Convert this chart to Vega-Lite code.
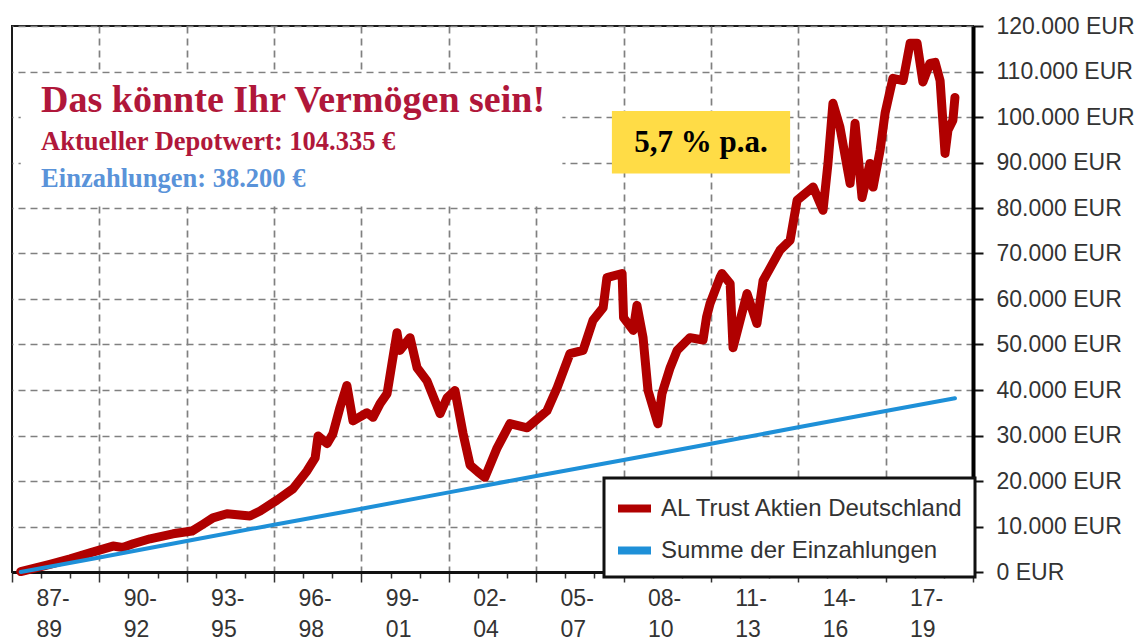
{
  "$schema": "https://vega.github.io/schema/vega-lite/v6.json",
  "width": 961,
  "height": 546,
  "padding": {"left": 11, "top": 15, "right": 0, "bottom": 0},
  "autosize": {"type": "pad"},
  "background": "white",
  "config": {
    "view": {"stroke": "#1a1a1a", "strokeWidth": 2},
    "font": "Liberation Sans",
    "legend": {"strokeWidth": 3}
  },
  "encoding": {
    "x": {
      "field": "year",
      "type": "quantitative",
      "scale": {"domain": [1987, 2020], "nice": false, "zero": false},
      "axis": {
        "title": null,
        "orient": "bottom",
        "values": [1987,1988,1989,1990,1991,1992,1993,1994,1995,1996,1997,1998,1999,2000,2001,2002,2003,2004,2005,2006,2007,2008,2009,2010,2011,2012,2013,2014,2015,2016,2017,2018,2019,2020,1987.82,1990.82,1993.82,1996.82,1999.82,2002.82,2005.82,2008.82,2011.82,2014.82,2017.82],
        "grid": true,
        "gridColor": "#808080",
        "gridDash": [7, 5],
        "gridWidth": 1.7,
        "gridOpacity": {"condition": {"test": "datum.value % 3 == 1 && datum.value > 1988 && datum.value < 2019", "value": 1}, "value": 0},
        "domainColor": "#111111",
        "domainWidth": 3,
        "tickColor": "#333333",
        "tickWidth": 1.5,
        "tickSize": {"condition": {"test": "datum.value % 3 == 1", "value": 10}, "value": 6},
        "tickOpacity": {"condition": {"test": "datum.value % 1 != 0", "value": 0}, "value": 1},
        "labelExpr": "datum.value % 1 != 0 ? [substring(toString(floor(datum.value)), 2) + '-', substring(toString(floor(datum.value) + 2), 2)] : ''",
        "labelAlign": "left",
        "labelBaseline": "top",
        "labelFontSize": 23,
        "labelColor": "#333333",
        "labelLineHeight": 31,
        "labelPadding": 9,
        "labelFlush": false,
        "labelOverlap": false,
        "labelBound": false
      }
    },
    "y": {
      "field": "value",
      "type": "quantitative",
      "scale": {"domain": [0, 120000], "nice": false},
      "axis": {
        "title": null,
        "orient": "right",
        "values": [0,10000,20000,30000,40000,50000,60000,70000,80000,90000,100000,110000,120000],
        "grid": true,
        "gridColor": "#808080",
        "gridDash": [7, 5],
        "gridWidth": 1.7,
        "domainColor": "#000000",
        "domainWidth": 4,
        "tickColor": "#111111",
        "tickWidth": 2,
        "tickSize": 10,
        "labelPadding": 13,
        "labelExpr": "replace(format(datum.value, ',d'), ',', '.') + ' EUR'",
        "labelFontSize": 23,
        "labelColor": "#333333",
        "labelBaseline": "middle",
        "labelFlush": false,
        "labelOverlap": false
      }
    }
  },
  "layer": [
    {
      "data": {"values": [{"year": 1987.3, "year2": 2005.9, "value": 80500, "value2": 109500}]},
      "mark": {"type": "rect", "fill": "white"},
      "encoding": {"x2": {"field": "year2"}, "y2": {"field": "value2"}}
    },
    {
      "data": {"values": [{"year": 2007.6, "year2": 2013.72, "value": 87600, "value2": 101300}]},
      "mark": {"type": "rect", "fill": "#FFDC46"},
      "encoding": {"x2": {"field": "year2"}, "y2": {"field": "value2"}}
    },
    {
      "data": {"values": [{"year": 1988.0, "value": 101000, "label": "Das könnte Ihr Vermögen sein!"}]},
      "mark": {"type": "text", "align": "left", "baseline": "alphabetic", "font": "Liberation Serif", "fontWeight": "bold", "fontSize": 38, "color": "#B0173A"},
      "encoding": {"text": {"field": "label"}}
    },
    {
      "data": {"values": [{"year": 1988.0, "value": 92700, "label": "Aktueller Depotwert: 104.335 €"}]},
      "mark": {"type": "text", "align": "left", "baseline": "alphabetic", "font": "Liberation Serif", "fontWeight": "bold", "fontSize": 26.5, "color": "#B0173A"},
      "encoding": {"text": {"field": "label"}}
    },
    {
      "data": {"values": [{"year": 1988.0, "value": 84550, "label": "Einzahlungen: 38.200 €"}]},
      "mark": {"type": "text", "align": "left", "baseline": "alphabetic", "font": "Liberation Serif", "fontWeight": "bold", "fontSize": 26.5, "color": "#5A93D9"},
      "encoding": {"text": {"field": "label"}}
    },
    {
      "data": {"values": [{"year": 2010.66, "value": 92300, "label": "5,7 % p.a."}]},
      "mark": {"type": "text", "align": "center", "baseline": "alphabetic", "font": "Liberation Serif", "fontWeight": "bold", "fontSize": 31, "color": "#000000"},
      "encoding": {"text": {"field": "label"}}
    },
    {
      "data": {"values": [
        {"series": "AL Trust Aktien Deutschland", "year": 1987.3, "value": 100},
        {"series": "AL Trust Aktien Deutschland", "year": 1988.3, "value": 1700},
        {"series": "AL Trust Aktien Deutschland", "year": 1989.0, "value": 2900},
        {"series": "AL Trust Aktien Deutschland", "year": 1989.68, "value": 4200},
        {"series": "AL Trust Aktien Deutschland", "year": 1990.47, "value": 5700},
        {"series": "AL Trust Aktien Deutschland", "year": 1990.8, "value": 5400},
        {"series": "AL Trust Aktien Deutschland", "year": 1991.16, "value": 6200},
        {"series": "AL Trust Aktien Deutschland", "year": 1991.74, "value": 7300},
        {"series": "AL Trust Aktien Deutschland", "year": 1992.53, "value": 8400},
        {"series": "AL Trust Aktien Deutschland", "year": 1993.18, "value": 9000},
        {"series": "AL Trust Aktien Deutschland", "year": 1993.56, "value": 10500},
        {"series": "AL Trust Aktien Deutschland", "year": 1993.9, "value": 11900},
        {"series": "AL Trust Aktien Deutschland", "year": 1994.38, "value": 12800},
        {"series": "AL Trust Aktien Deutschland", "year": 1995.17, "value": 12300},
        {"series": "AL Trust Aktien Deutschland", "year": 1995.52, "value": 13400},
        {"series": "AL Trust Aktien Deutschland", "year": 1996.1, "value": 15800},
        {"series": "AL Trust Aktien Deutschland", "year": 1996.65, "value": 18300},
        {"series": "AL Trust Aktien Deutschland", "year": 1997.13, "value": 22200},
        {"series": "AL Trust Aktien Deutschland", "year": 1997.41, "value": 25100},
        {"series": "AL Trust Aktien Deutschland", "year": 1997.51, "value": 29900},
        {"series": "AL Trust Aktien Deutschland", "year": 1997.82, "value": 28200},
        {"series": "AL Trust Aktien Deutschland", "year": 1998.02, "value": 30400},
        {"series": "AL Trust Aktien Deutschland", "year": 1998.26, "value": 36100},
        {"series": "AL Trust Aktien Deutschland", "year": 1998.5, "value": 41000},
        {"series": "AL Trust Aktien Deutschland", "year": 1998.71, "value": 33200},
        {"series": "AL Trust Aktien Deutschland", "year": 1999.19, "value": 35000},
        {"series": "AL Trust Aktien Deutschland", "year": 1999.4, "value": 34000},
        {"series": "AL Trust Aktien Deutschland", "year": 1999.64, "value": 37000},
        {"series": "AL Trust Aktien Deutschland", "year": 1999.88, "value": 39200},
        {"series": "AL Trust Aktien Deutschland", "year": 2000.08, "value": 47100},
        {"series": "AL Trust Aktien Deutschland", "year": 2000.22, "value": 52600},
        {"series": "AL Trust Aktien Deutschland", "year": 2000.32, "value": 48700},
        {"series": "AL Trust Aktien Deutschland", "year": 2000.67, "value": 51500},
        {"series": "AL Trust Aktien Deutschland", "year": 2000.91, "value": 44900},
        {"series": "AL Trust Aktien Deutschland", "year": 2001.25, "value": 42000},
        {"series": "AL Trust Aktien Deutschland", "year": 2001.7, "value": 34800},
        {"series": "AL Trust Aktien Deutschland", "year": 2001.94, "value": 38300},
        {"series": "AL Trust Aktien Deutschland", "year": 2002.21, "value": 39900},
        {"series": "AL Trust Aktien Deutschland", "year": 2002.49, "value": 30400},
        {"series": "AL Trust Aktien Deutschland", "year": 2002.73, "value": 23500},
        {"series": "AL Trust Aktien Deutschland", "year": 2003.0, "value": 22000},
        {"series": "AL Trust Aktien Deutschland", "year": 2003.24, "value": 20800},
        {"series": "AL Trust Aktien Deutschland", "year": 2003.66, "value": 27300},
        {"series": "AL Trust Aktien Deutschland", "year": 2004.1, "value": 32600},
        {"series": "AL Trust Aktien Deutschland", "year": 2004.69, "value": 31700},
        {"series": "AL Trust Aktien Deutschland", "year": 2005.37, "value": 35400},
        {"series": "AL Trust Aktien Deutschland", "year": 2005.72, "value": 40500},
        {"series": "AL Trust Aktien Deutschland", "year": 2006.16, "value": 48000},
        {"series": "AL Trust Aktien Deutschland", "year": 2006.61, "value": 48700},
        {"series": "AL Trust Aktien Deutschland", "year": 2006.95, "value": 55300},
        {"series": "AL Trust Aktien Deutschland", "year": 2007.3, "value": 58100},
        {"series": "AL Trust Aktien Deutschland", "year": 2007.43, "value": 64700},
        {"series": "AL Trust Aktien Deutschland", "year": 2007.95, "value": 65600},
        {"series": "AL Trust Aktien Deutschland", "year": 2008.0, "value": 55900},
        {"series": "AL Trust Aktien Deutschland", "year": 2008.33, "value": 53100},
        {"series": "AL Trust Aktien Deutschland", "year": 2008.46, "value": 58600},
        {"series": "AL Trust Aktien Deutschland", "year": 2008.67, "value": 51500},
        {"series": "AL Trust Aktien Deutschland", "year": 2008.84, "value": 39900},
        {"series": "AL Trust Aktien Deutschland", "year": 2009.18, "value": 32600},
        {"series": "AL Trust Aktien Deutschland", "year": 2009.32, "value": 39200},
        {"series": "AL Trust Aktien Deutschland", "year": 2009.6, "value": 44900},
        {"series": "AL Trust Aktien Deutschland", "year": 2009.84, "value": 48700},
        {"series": "AL Trust Aktien Deutschland", "year": 2010.28, "value": 51500},
        {"series": "AL Trust Aktien Deutschland", "year": 2010.73, "value": 51000},
        {"series": "AL Trust Aktien Deutschland", "year": 2010.85, "value": 56000},
        {"series": "AL Trust Aktien Deutschland", "year": 2010.97, "value": 59000},
        {"series": "AL Trust Aktien Deutschland", "year": 2011.31, "value": 64700},
        {"series": "AL Trust Aktien Deutschland", "year": 2011.38, "value": 65600},
        {"series": "AL Trust Aktien Deutschland", "year": 2011.66, "value": 63400},
        {"series": "AL Trust Aktien Deutschland", "year": 2011.76, "value": 49300},
        {"series": "AL Trust Aktien Deutschland", "year": 2012.24, "value": 61200},
        {"series": "AL Trust Aktien Deutschland", "year": 2012.58, "value": 54600},
        {"series": "AL Trust Aktien Deutschland", "year": 2012.79, "value": 64000},
        {"series": "AL Trust Aktien Deutschland", "year": 2013.37, "value": 70700},
        {"series": "AL Trust Aktien Deutschland", "year": 2013.72, "value": 72900},
        {"series": "AL Trust Aktien Deutschland", "year": 2013.96, "value": 81700},
        {"series": "AL Trust Aktien Deutschland", "year": 2014.51, "value": 84600},
        {"series": "AL Trust Aktien Deutschland", "year": 2014.85, "value": 79500},
        {"series": "AL Trust Aktien Deutschland", "year": 2015.02, "value": 89800},
        {"series": "AL Trust Aktien Deutschland", "year": 2015.19, "value": 103000},
        {"series": "AL Trust Aktien Deutschland", "year": 2015.43, "value": 97800},
        {"series": "AL Trust Aktien Deutschland", "year": 2015.78, "value": 85400},
        {"series": "AL Trust Aktien Deutschland", "year": 2015.95, "value": 98600},
        {"series": "AL Trust Aktien Deutschland", "year": 2016.19, "value": 82300},
        {"series": "AL Trust Aktien Deutschland", "year": 2016.46, "value": 89800},
        {"series": "AL Trust Aktien Deutschland", "year": 2016.57, "value": 84600},
        {"series": "AL Trust Aktien Deutschland", "year": 2016.81, "value": 92700},
        {"series": "AL Trust Aktien Deutschland", "year": 2016.98, "value": 100800},
        {"series": "AL Trust Aktien Deutschland", "year": 2017.25, "value": 108500},
        {"series": "AL Trust Aktien Deutschland", "year": 2017.6, "value": 108000},
        {"series": "AL Trust Aktien Deutschland", "year": 2017.84, "value": 116200},
        {"series": "AL Trust Aktien Deutschland", "year": 2018.08, "value": 116200},
        {"series": "AL Trust Aktien Deutschland", "year": 2018.28, "value": 107700},
        {"series": "AL Trust Aktien Deutschland", "year": 2018.52, "value": 111800},
        {"series": "AL Trust Aktien Deutschland", "year": 2018.7, "value": 112000},
        {"series": "AL Trust Aktien Deutschland", "year": 2018.87, "value": 108000},
        {"series": "AL Trust Aktien Deutschland", "year": 2019.04, "value": 92000},
        {"series": "AL Trust Aktien Deutschland", "year": 2019.14, "value": 97100},
        {"series": "AL Trust Aktien Deutschland", "year": 2019.31, "value": 99300},
        {"series": "AL Trust Aktien Deutschland", "year": 2019.38, "value": 104300}
      ]},
      "mark": {"type": "line", "strokeWidth": 9, "strokeJoin": "round", "strokeCap": "round"},
      "encoding": {
        "color": {
          "field": "series", "type": "nominal",
          "scale": {"domain": ["AL Trust Aktien Deutschland", "Summe der Einzahlungen"], "range": ["#B00000", "#1E90D8"]},
          "legend": {"title": null, "orient": "none", "legendX": 592, "legendY": 452, "fillColor": "white", "strokeColor": "#111111", "padding": 10, "labelFontSize": 24, "labelColor": "#333333", "labelFont": "Liberation Sans", "symbolType": "stroke", "symbolSize": 1089, "symbolStrokeWidth": 8, "labelLimit": 400, "rowPadding": 5, "labelOffset": 6}
        }
      }
    },
    {
      "data": {"values": [
        {"series": "Summe der Einzahlungen", "year": 1987.3, "value": 0},
        {"series": "Summe der Einzahlungen", "year": 1990, "value": 3200},
        {"series": "Summe der Einzahlungen", "year": 1993, "value": 6800},
        {"series": "Summe der Einzahlungen", "year": 1996, "value": 10400},
        {"series": "Summe der Einzahlungen", "year": 1999, "value": 13900},
        {"series": "Summe der Einzahlungen", "year": 2002, "value": 17500},
        {"series": "Summe der Einzahlungen", "year": 2005, "value": 21100},
        {"series": "Summe der Einzahlungen", "year": 2008, "value": 24600},
        {"series": "Summe der Einzahlungen", "year": 2011, "value": 28200},
        {"series": "Summe der Einzahlungen", "year": 2014, "value": 31800},
        {"series": "Summe der Einzahlungen", "year": 2017, "value": 35400},
        {"series": "Summe der Einzahlungen", "year": 2019.38, "value": 38200}
      ]},
      "mark": {"type": "line", "strokeWidth": 4, "strokeJoin": "round", "strokeCap": "round"},
      "encoding": {
        "color": {
          "field": "series", "type": "nominal",
          "scale": {"domain": ["AL Trust Aktien Deutschland", "Summe der Einzahlungen"], "range": ["#B00000", "#1E90D8"]},
          "legend": {"title": null, "orient": "none", "legendX": 592, "legendY": 452, "fillColor": "white", "strokeColor": "#111111", "padding": 10, "labelFontSize": 24, "labelColor": "#333333", "labelFont": "Liberation Sans", "symbolType": "stroke", "symbolSize": 1089, "symbolStrokeWidth": 8, "labelLimit": 400, "rowPadding": 5, "labelOffset": 6}
        }
      }
    }
  ]
}
